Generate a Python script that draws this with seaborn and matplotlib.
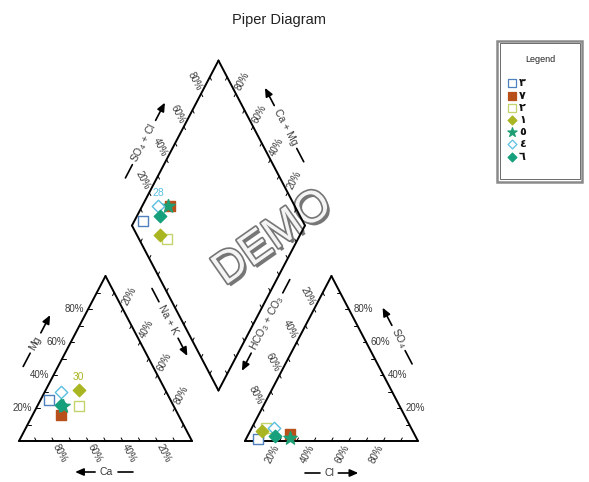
import numpy as np
import pandas as pd
import matplotlib
matplotlib.use("Agg")
import matplotlib.pyplot as plt
import matplotlib.patheffects as pe
from matplotlib.patches import Rectangle
from matplotlib.textpath import TextPath
from matplotlib.font_manager import FontProperties
import seaborn as sns

# ---- sample data (meq %) ----
samples = ["٣", "٧", "٢", "١", "٥", "٤", "٦"]
ca = [70, 68, 55, 50, 64, 61, 65]
mg = [25, 16, 21, 31, 21, 30, 22]
na_k = [5, 16, 24, 19, 15, 9, 13]
hco3 = [92, 72, 84, 87, 73, 79, 81]
cl = [7, 24, 8, 7, 25, 13, 16]
so4 = [1, 4, 8, 6, 2, 8, 3]

# sample annotations: (sample, field, text)
annotations = [("١", "cation", "30"), ("٤", "diamond", "28")]

# ---- marker styles ----
marker_shapes = ["s", "s", "s", "D", "*", "D", "D"]
marker_colors = ["#4f81bd", "#b8501c", "#c4d36b", "#a9b521", "#1f9e74", "#5bbfe0", "#17a07c"]
marker_filled = [False, True, False, True, True, False, True]

sns.set_style("white")
plt.rcParams["font.family"] = ["Liberation Sans", "DejaVu Sans"]

# ---- geometry ----
S = np.sqrt(3) / 2
GAP = 0.306
SX, SY = 173.0, 190.5      # pixels per unit
X0, Y0 = 19.0, 441.0       # pixel position of the cation triangle's Ca corner
W, H = 589, 482
ANG = np.degrees(np.arctan2(S * SY, 0.5 * SX))

fig = plt.figure(figsize=(W / 100, H / 100), dpi=100)
ax = fig.add_axes([0, 0, 1, 1])
ax.set_xlim(-X0 / SX, (W - X0) / SX)
ax.set_ylim((Y0 - H) / SY, Y0 / SY)
ax.axis("off")


def from_px(px, py):
    return (px - X0) / SX, (Y0 - py) / SY


def step(x, y, ang, dist):
    r = np.radians(ang)
    return x + dist * np.cos(r) / SX, y + dist * np.sin(r) / SY


L0, L1, L2 = (0.0, 0.0), (1.0, 0.0), (0.5, S)
R0, R1, R2 = (1 + GAP, 0.0), (2 + GAP, 0.0), (1.5 + GAP, S)
B = (1 + GAP / 2, GAP * S)
DL = (B[0] - 0.5, B[1] + S)
DT = (B[0], B[1] + 2 * S)
DR = (B[0] + 0.5, B[1] + S)

TXT = "#3a3a3a"


def edge(p0, p1, tick_ang, label_ang=None, rot=0, ha="left"):
    ax.plot([p0[0], p1[0]], [p0[1], p1[1]], color="black", lw=1.4,
            solid_capstyle="round", zorder=3)
    for k in range(1, 10):
        f = k / 10
        x = p0[0] + f * (p1[0] - p0[0])
        y = p0[1] + f * (p1[1] - p0[1])
        x2, y2 = step(x, y, tick_ang, 3.5)
        ax.plot([x, x2], [y, y2], color="black", lw=0.7, zorder=3)
        if label_ang is not None and k % 2 == 0:
            lx, ly = step(x, y, label_ang, 4.5)
            ax.text(lx, ly, f"{k * 10}%", rotation=rot, rotation_mode="anchor",
                    ha=ha, va="center", fontsize=7, color=TXT, zorder=4)


# cation triangle
edge(L1, L0, 180 - ANG, -ANG, -ANG, "left")      # Ca
edge(L0, L2, 0, 180, 0, "right")                 # Mg
edge(L2, L1, 180 + ANG, ANG, ANG, "left")        # Na + K
# anion triangle
edge(R0, R1, ANG, 180 + ANG, ANG, "right")       # Cl
edge(R1, R2, 180, 0, 0, "left")                  # SO4
edge(R2, R0, -ANG, 180 - ANG, -ANG, "right")     # HCO3 + CO3
# diamond
edge(DL, DT, -ANG, 180 - ANG, -ANG, "right")     # SO4 + Cl
edge(DR, DT, 180 + ANG, ANG, ANG, "left")        # Ca + Mg
edge(B, DL, ANG)
edge(B, DR, 180 - ANG)


def axis_title(cx, cy, ang, label, forward, gap=5, line_len=15, arrow_len=20):
    x, y = from_px(cx, cy)
    ax.text(x, y, label, rotation=ang, rotation_mode="anchor", ha="center",
            va="center", fontsize=7.5, color=TXT, zorder=4)
    prop = FontProperties(family="Liberation Sans", size=7.5)
    hw = TextPath((0, 0), label, prop=prop).get_extents().width * 100 / 72 / 2
    sgn = 1 if forward else -1
    a0 = step(x, y, ang, sgn * (hw + gap))
    a1 = step(x, y, ang, sgn * (hw + gap + arrow_len))
    l0 = step(x, y, ang, -sgn * (hw + gap))
    l1 = step(x, y, ang, -sgn * (hw + gap + line_len))
    ax.plot([l0[0], l1[0]], [l0[1], l1[1]], color="black", lw=1.2, zorder=4)
    ax.annotate("", xy=a1, xytext=a0,
                arrowprops=dict(arrowstyle="-|>,head_length=0.5,head_width=0.22",
                                color="black", lw=1.2, shrinkA=0, shrinkB=0,
                                mutation_scale=10), zorder=4)


axis_title(35.5, 343, ANG, "Mg", True)
axis_title(106.5, 472, 0, "Ca", False)
axis_title(168.5, 320, -ANG, "Na + K", True)
axis_title(329, 473, 0, "Cl", True)
axis_title(398.5, 338, -ANG, r"$\mathregular{SO_4}$", False)
axis_title(267, 323, ANG, r"$\mathregular{HCO_3}$ + $\mathregular{CO_3}$", False)
axis_title(144, 142.5, ANG, r"$\mathregular{SO_4}$ + Cl", True)
axis_title(285.5, 127, -ANG, "Ca + Mg", False)

# ---- project samples ----
rows = []
for i, name in enumerate(samples):
    ct = ca[i] + mg[i] + na_k[i]
    at = hco3[i] + cl[i] + so4[i]
    m_f, n_f = mg[i] / ct, na_k[i] / ct
    c_f, s_f = cl[i] / at, so4[i] / at
    rows.append((name, "cation", n_f + 0.5 * m_f, S * m_f))
    rows.append((name, "anion", R0[0] + c_f + 0.5 * s_f, S * s_f))
    a_f, h_f = c_f + s_f, 1 - n_f
    rows.append((name, "diamond", B[0] + 0.5 * (a_f - h_f), B[1] + S * (a_f + h_f)))
df = pd.DataFrame(rows, columns=["sample", "field", "x", "y"])

sizes = {"s": 52, "D": 40, "*": 100}
for i, name in enumerate(samples):
    sub = df[df["sample"] == name]
    mk = marker_shapes[i]
    col = marker_colors[i]
    sns.scatterplot(data=sub, x="x", y="y", marker=mk, s=sizes[mk],
                    facecolor=col if marker_filled[i] else "white",
                    edgecolor=col, linewidth=1.0, ax=ax, legend=False, zorder=6)

for name, field, txt in annotations:
    i = samples.index(name)
    r = df[(df["sample"] == name) & (df["field"] == field)].iloc[0]
    tx, ty = step(r["x"], r["y"], 90, 13)
    ax.text(tx, ty, txt, ha="center", va="center", fontsize=7.5,
            color=marker_colors[i], zorder=6)

# ---- title ----
tx, ty = from_px(278.5, 20)
ax.text(tx, ty, "Piper Diagram", ha="center", va="center", fontsize=10.5, color="#222222")

# ---- watermark ----
wx, wy = from_px(273, 238)
ax.text(wx, wy, "DEMO", rotation=35, ha="center", va="center", fontsize=32,
        color="#f4f4f4", zorder=1, rotation_mode="anchor",
        path_effects=[pe.withSimplePatchShadow(offset=(2.0, -2.0), shadow_rgbFace="#4a4a4a", alpha=0.75),
                      pe.Stroke(linewidth=2.4, foreground="#767676"), pe.Normal()])

# ---- legend ----
bx0, by0 = from_px(497, 182)
bx1, by1 = from_px(582, 41)
ax.add_patch(Rectangle((bx0, by0), bx1 - bx0, by1 - by0, fill=False,
                       edgecolor="#8a8a8a", lw=1.8, zorder=2))
ix0, iy0 = from_px(499.5, 179.5)
ix1, iy1 = from_px(579.5, 43.5)
ax.add_patch(Rectangle((ix0, iy0), ix1 - ix0, iy1 - iy0, fill=False,
                       edgecolor="#555555", lw=0.6, zorder=2))
lx, ly = from_px(540, 60)
ax.text(lx, ly, "Legend", ha="center", va="center", fontsize=6.5, color="#222222")
leg_sizes = {"s": 26, "D": 20, "*": 48}
for i, name in enumerate(samples):
    mx, my = from_px(512, 83.5 + 12.2 * i)
    mk = marker_shapes[i]
    col = marker_colors[i]
    ax.scatter([mx], [my], marker=mk, s=leg_sizes[mk],
               facecolor=col if marker_filled[i] else "white",
               edgecolor=col, linewidths=0.9, zorder=6)
    txx, txy = from_px(519, 83.5 + 12.2 * i)
    ax.text(txx, txy, name, ha="left", va="center", fontsize=8,
            fontweight="bold", color="#111111", family=["DejaVu Sans"])

fig.savefig("out.png", dpi=100)
